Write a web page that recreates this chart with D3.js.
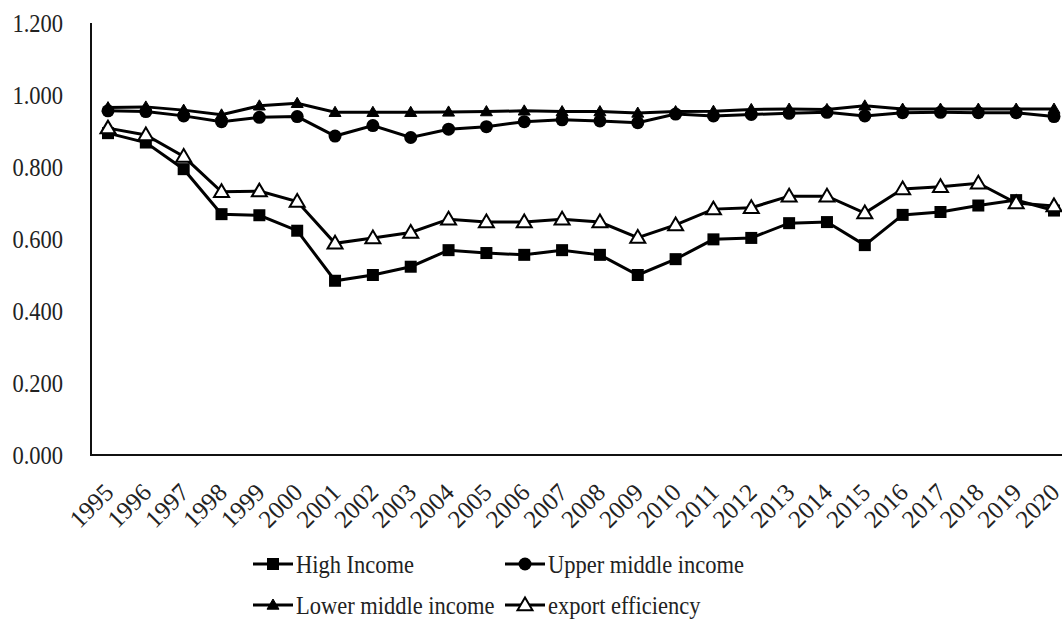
<!DOCTYPE html>
<html lang="en">
<head>
  <meta charset="UTF-8">
  <title>Income groups</title>
  <script src="https://cdnjs.cloudflare.com/ajax/libs/d3/7.8.5/d3.min.js"></script>
  <style>
    body { margin: 0; background: #fff; }
    svg text { font-family: Liberation Serif, Times New Roman, DejaVu Serif, serif; fill: #222; }
  </style>
</head>
<body>
<div id="chart"></div>
<script>
var years = [1995,1996,1997,1998,1999,2000,2001,2002,2003,2004,2005,2006,2007,2008,2009,2010,2011,2012,2013,2014,2015,2016,2017,2018,2019,2020]

var highIncome = [0.894,0.868,0.794,0.669,0.666,0.623,0.484,0.500,0.523,0.569,0.561,0.556,0.569,0.556,0.500,0.544,0.599,0.603,0.644,0.647,0.583,0.667,0.675,0.693,0.708,0.679]
var upperMiddle = [0.956,0.954,0.942,0.926,0.938,0.940,0.886,0.915,0.882,0.905,0.912,0.926,0.931,0.928,0.923,0.947,0.942,0.946,0.949,0.952,0.942,0.951,0.952,0.951,0.951,0.940]
var lowerMiddle = [0.965,0.967,0.958,0.945,0.970,0.977,0.952,0.952,0.952,0.953,0.954,0.956,0.954,0.954,0.950,0.954,0.955,0.960,0.961,0.960,0.970,0.961,0.961,0.961,0.961,0.961]
var exportEff = [0.908,0.889,0.829,0.731,0.733,0.704,0.588,0.603,0.618,0.655,0.647,0.647,0.655,0.647,0.604,0.639,0.683,0.687,0.719,0.719,0.672,0.739,0.745,0.755,0.700,0.692]

var yTicks = [0, 0.2, 0.4, 0.6, 0.8, 1.0, 1.2]

var series = [
  {name: "High Income", values: highIncome, marker: "square"},
  {name: "Upper middle income", values: upperMiddle, marker: "circle"},
  {name: "Lower middle income", values: lowerMiddle, marker: "triangle"},
  {name: "export efficiency", values: exportEff, marker: "openTriangle"}
]

var width = 1062, height = 619
// the original text is a little narrow for its height
var squeeze = 0.9

var svg = d3.select("#chart")
  .append("svg")
  .attr("width", width)
  .attr("height", height)

var x = d3.scalePoint().domain(years).range([108, 1054])
var y = d3.scaleLinear().domain([0, 1.2]).range([455, 23])

// axes lines
svg.append("line")
  .attr("x1", 91).attr("y1", y(1.2)).attr("x2", 91).attr("y2", y(0))
  .style("stroke", "#111").style("stroke-width", 2)
svg.append("line")
  .attr("x1", 90).attr("y1", y(0)).attr("x2", 1062).attr("y2", y(0))
  .style("stroke", "#111").style("stroke-width", 2)

// y tick labels
svg.selectAll(".ytick")
  .data(yTicks)
  .enter().append("text")
  .attr("class", "ytick")
  .attr("transform", d => "translate(63," + y(d) + ") scale(" + squeeze + ",1)")
  .attr("dy", "0.35em")
  .attr("text-anchor", "end")
  .style("font-size", "25px")
  .text(d => d3.format(".3f")(d))

// x tick labels
svg.selectAll(".xtick")
  .data(years)
  .enter().append("text")
  .attr("class", "xtick")
  .attr("transform", d => "translate(" + (x(d) + 7) + "," + 494 + ") rotate(-45)")
  .attr("text-anchor", "end")
  .style("font-size", "25px")
  .text(d => d)

function drawMarker(g, type, cx, cy) {
  if (type == "square") {
    g.append("rect")
      .attr("x", cx - 6).attr("y", cy - 6)
      .attr("width", 12).attr("height", 12)
      .style("fill", "#000")
  } else if (type == "circle") {
    g.append("circle")
      .attr("cx", cx).attr("cy", cy).attr("r", 6.5)
      .style("fill", "#000")
  } else {
    var s = type == "triangle" ? 6 : 7.5
    var pts = [[cx, cy - s], [cx - s, cy + s * 0.7], [cx + s, cy + s * 0.7]]
    g.append("path")
      .attr("d", "M" + pts.join("L") + "Z")
      .style("fill", type == "triangle" ? "#000" : "#fff")
      .style("stroke", "#000")
      .style("stroke-width", type == "triangle" ? 1 : 2)
  }
}

var line = d3.line()
  .x((d, i) => x(years[i]))
  .y(d => y(d))

series.forEach(s => {
  var g = svg.append("g")
  g.append("path")
    .datum(s.values)
    .attr("d", line)
    .style("fill", "none")
    .style("stroke", "#000")
    .style("stroke-width", 3)
  s.values.forEach((v, i) => drawMarker(g, s.marker, x(years[i]), y(v)))
})

// legend
var legendPos = [[253, 564], [505, 564], [253, 605], [505, 605]]
series.forEach((s, i) => {
  var lx = legendPos[i][0], ly = legendPos[i][1]
  var g = svg.append("g")
  g.append("line")
    .attr("x1", lx).attr("y1", ly).attr("x2", lx + 40).attr("y2", ly)
    .style("stroke", "#000").style("stroke-width", 3)
  drawMarker(g, s.marker, lx + 20, ly)
  g.append("text")
    .attr("transform", "translate(" + (lx + 43) + "," + ly + ") scale(" + squeeze + ",1)")
    .attr("dy", "0.35em")
    .style("font-size", "25px")
    .text(s.name)
})
</script>
</body>
</html>
